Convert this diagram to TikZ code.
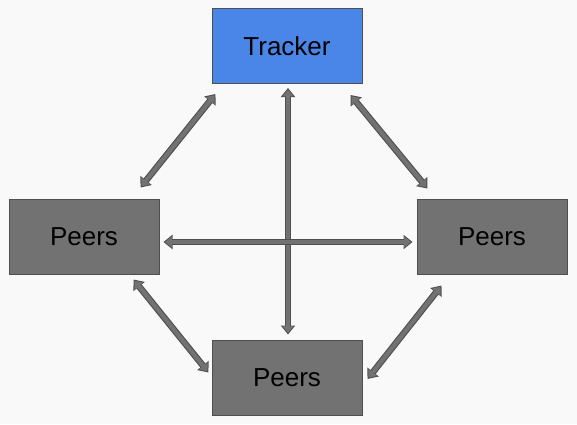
\documentclass[tikz,border=0pt]{standalone}
\usepackage{fontspec}
\setmainfont{Liberation Sans}
\usetikzlibrary{arrows.meta,calc}
\definecolor{boxgray}{HTML}{727272}
\definecolor{edgegray}{HTML}{4F4F4F}
\definecolor{trackblue}{HTML}{4A86E8}
\definecolor{bg}{HTML}{F9F9F9}
\newcommand{\fatlink}[2]{%
  \draw[fatout] #1 -- #2;
  \draw[fatin] #1 -- #2;}
\begin{document}
\begin{tikzpicture}[x=1pt,y=-1pt,
  box/.style={draw=edgegray, line width=1pt, minimum width=150pt, minimum height=75pt, inner sep=0pt, font=\fontsize{26}{30}\selectfont},
  peerbox/.style={box, fill=boxgray},
  trackbox/.style={box, fill=trackblue},
  fatout/.style={draw=edgegray, line width=6.5pt, {Triangle[length=9pt,width=14pt]}-{Triangle[length=9pt,width=14pt]}},
  fatin/.style={draw=boxgray, line width=4.3pt, {Triangle[length=6.8pt,width=10.6pt]}-{Triangle[length=6.8pt,width=10.6pt]}, shorten <=1.6pt, shorten >=1.6pt},
]
\fill[bg] (0,0) rectangle (577,424);
\useasboundingbox (0,0) rectangle (577,424);
\node[trackbox] (T) at (287,46) {Tracker};
\node[peerbox] (L) at (84,236.5) {Peers};
\node[peerbox] (R) at (492,236.5) {Peers};
\node[peerbox] (B) at (287,377.5) {Peers};
\fatlink{([shift={(4,10)}]T.south west)}{([shift={(-19,-11)}]L.north east)}
\fatlink{([shift={(1,4)}]T.south)}{([shift={(1,-5)}]B.north)}
\fatlink{([shift={(-12,11)}]T.south east)}{([shift={(11,-10)}]R.north west)}
\fatlink{([shift={(4,5.5)}]L.east)}{([shift={(-4,5.5)}]R.west)}
\fatlink{([shift={(-26,5)}]L.south east)}{([shift={(-3,-5)}]B.west)}
\fatlink{([shift={(25,11)}]R.south west)}{([shift={(5,1.5)}]B.east)}
\end{tikzpicture}
\end{document}
